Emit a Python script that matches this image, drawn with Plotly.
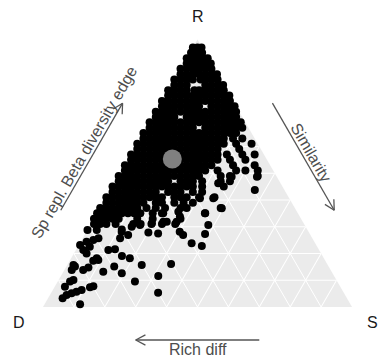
import math
import plotly.graph_objects as go

# Partition of pairwise beta diversity into three components per site pair:
# R = species replacement, S = similarity, D = richness difference (D = 1 - R - S).
# Dense part of the cloud, grouped by replacement level.
row_r = [0.97, 0.95, 0.93, 0.91, 0.89, 0.87, 0.85, 0.83, 0.81, 0.79,
         0.77, 0.75, 0.73, 0.71, 0.69, 0.67, 0.65, 0.63, 0.61, 0.59,
         0.57, 0.55, 0.53, 0.51, 0.49, 0.47, 0.45, 0.43, 0.41, 0.39,
         0.37, 0.35, 0.33, 0.31]
row_s = [
    [0.0, 0.015, 0.028],
    [0.004, 0.022, 0.04],
    [0.0, 0.018, 0.036, 0.055, 0.068],
    [0.01, 0.03, 0.05, 0.07, 0.088],
    [0.0, 0.02, 0.04, 0.06, 0.08, 0.1],
    [0.01, 0.03, 0.05, 0.07, 0.09, 0.11, 0.128],
    [0.0, 0.02, 0.04, 0.06, 0.085, 0.1, 0.12, 0.14],
    [0.01, 0.03, 0.05, 0.11, 0.13, 0.15, 0.168],
    [0.0, 0.02, 0.04, 0.06, 0.085, 0.1, 0.12, 0.14, 0.16, 0.18],
    [0.01, 0.03, 0.05, 0.07, 0.09, 0.11, 0.13, 0.15, 0.17, 0.19, 0.208],
    [0.0, 0.02, 0.04, 0.06, 0.08, 0.1, 0.12, 0.14, 0.16, 0.18, 0.2, 0.22],
    [0.01, 0.03, 0.05, 0.07, 0.09, 0.11, 0.13, 0.17, 0.19, 0.21, 0.23, 0.245],
    [0.0, 0.02, 0.04, 0.06, 0.08, 0.1, 0.12, 0.14, 0.16, 0.18, 0.2, 0.22, 0.24, 0.26],
    [0.01, 0.03, 0.05, 0.07, 0.11, 0.13, 0.15, 0.17, 0.19, 0.21, 0.23, 0.25, 0.27],
    [0.0, 0.02, 0.04, 0.06, 0.08, 0.1, 0.12, 0.14, 0.16, 0.18, 0.2, 0.22, 0.24, 0.26, 0.28, 0.295],
    [0.01, 0.03, 0.05, 0.07, 0.09, 0.11, 0.13, 0.15, 0.19, 0.21, 0.23, 0.25, 0.27, 0.29, 0.31],
    [0.0, 0.02, 0.04, 0.06, 0.08, 0.1, 0.12, 0.14, 0.16, 0.18, 0.2, 0.22, 0.24, 0.26, 0.28, 0.3],
    [0.01, 0.03, 0.05, 0.07, 0.09, 0.11, 0.13, 0.15, 0.17, 0.19, 0.21, 0.23, 0.25, 0.27, 0.3, 0.33],
    [0.0, 0.02, 0.04, 0.06, 0.08, 0.1, 0.12, 0.14, 0.16, 0.18, 0.2, 0.22, 0.24, 0.26, 0.28, 0.32, 0.37],
    [0.01, 0.03, 0.05, 0.07, 0.09, 0.11, 0.13, 0.15, 0.17, 0.19, 0.21, 0.23, 0.25, 0.27, 0.34],
    [0.0, 0.02, 0.04, 0.06, 0.08, 0.1, 0.12, 0.14, 0.16, 0.18, 0.2, 0.22, 0.24, 0.26, 0.28, 0.31, 0.36, 0.4],
    [0.01, 0.03, 0.05, 0.07, 0.09, 0.11, 0.13, 0.15, 0.17, 0.19, 0.21, 0.23, 0.25, 0.27, 0.29, 0.33, 0.38],
    [0.0, 0.02, 0.04, 0.06, 0.08, 0.1, 0.12, 0.14, 0.16, 0.18, 0.2, 0.22, 0.24, 0.26, 0.28, 0.35, 0.42],
    [0.01, 0.03, 0.05, 0.07, 0.09, 0.11, 0.13, 0.15, 0.17, 0.19, 0.21, 0.23, 0.25, 0.27, 0.31, 0.37, 0.4, 0.44],
    [0.0, 0.02, 0.04, 0.06, 0.08, 0.1, 0.12, 0.14, 0.16, 0.18, 0.2, 0.22, 0.24, 0.26, 0.33, 0.36, 0.45],
    [0.01, 0.03, 0.05, 0.07, 0.09, 0.11, 0.13, 0.15, 0.17, 0.21, 0.23, 0.25, 0.28, 0.34, 0.37],
    [0.0, 0.02, 0.04, 0.06, 0.08, 0.1, 0.12, 0.14, 0.16, 0.18, 0.2, 0.22, 0.24, 0.26, 0.29, 0.36],
    [0.01, 0.03, 0.05, 0.07, 0.09, 0.11, 0.13, 0.15, 0.19, 0.21, 0.23, 0.27, 0.3],
    [0.0, 0.02, 0.04, 0.06, 0.08, 0.1, 0.12, 0.14, 0.16, 0.18, 0.22, 0.24, 0.26, 0.3, 0.35],
    [0.01, 0.03, 0.05, 0.07, 0.09, 0.11, 0.13, 0.17, 0.19, 0.23, 0.26, 0.29],
    [0.0, 0.02, 0.04, 0.06, 0.08, 0.1, 0.12, 0.15, 0.18, 0.21, 0.26, 0.28, 0.39],
    [0.0, 0.02, 0.04, 0.06, 0.08, 0.1, 0.12, 0.14, 0.18, 0.21, 0.35],
    [0.0, 0.02, 0.04, 0.06, 0.08, 0.14, 0.19, 0.28],
    [0.01, 0.03, 0.05, 0.08, 0.137, 0.161, 0.196, 0.23, 0.273],
]

# Scattered site pairs towards the D and S corners.
extra_r = [0.01, 0.033, 0.045, 0.051, 0.057, 0.064, 0.074, 0.078, 0.076, 0.095,
           0.101, 0.138, 0.151, 0.157, 0.138, 0.148, 0.176, 0.132, 0.151, 0.126,
           0.095, 0.116, 0.053, 0.157, 0.161, 0.191, 0.182, 0.213, 0.216, 0.173,
           0.182, 0.2, 0.213, 0.225, 0.232, 0.244, 0.25, 0.257, 0.257, 0.281,
           0.278, 0.275, 0.269, 0.3, 0.306, 0.313, 0.319, 0.281, 0.269, 0.238,
           0.228, 0.273, 0.306, 0.35, 0.406, 0.369, 0.406, 0.462, 0.437, 0.487,
           0.487, 0.319, 0.338, 0.356, 0.319, 0.35, 0.288, 0.288, 0.29]
extra_s = [0.115, 0.047, 0.054, 0.067, 0.08, 0.093, 0.115, 0.124, 0.033, 0.04,
           0.048, 0.024, 0.028, 0.02, 0.061, 0.073, 0.091, 0.129, 0.155, 0.192,
           0.25, 0.315, 0.346, 0.241, 0.334, 0.16, 0.19, 0.105, 0.125, 0.076,
           0.083, 0.041, 0.024, 0.039, 0.004, 0.019, 0.038, 0.051, 0.121, 0.114,
           0.202, 0.235, 0.141, 0.137, 0.161, 0.196, 0.23, 0.302, 0.319, 0.362,
           0.4, 0.388, 0.382, 0.349, 0.305, 0.394, 0.348, 0.336, 0.467, 0.449,
           0.367, 0.273, 0.274, 0.26, 0.241, 0.214, 0.0, 0.03, 0.11]

# Mean position of all site pairs.
centroid_r = [0.553]
centroid_s = [0.142]

corner_labels = ["R", "D", "S"]
edge_labels = ["Sp repl. Beta diversity edge", "Similarity", "Rich diff"]

pts_r, pts_s = [], []
for r, ss in zip(row_r, row_s):
    for s in ss:
        pts_r.append(r)
        pts_s.append(s)
pts_r += extra_r
pts_s += extra_s
pts_d = [max(0.0, round(1 - r - s, 4)) for r, s in zip(pts_r, pts_s)]
cen_d = [round(1 - r - s, 4) for r, s in zip(centroid_r, centroid_s)]

W, H = 381, 360
FONT = "Liberation Sans, Arial, sans-serif"

# Ternary placement: width-limited triangle centred in its domain.
dom_x = [43 / W, 352 / W]
yc = 1 - 173.2 / H
dom_y = [yc - 0.40, yc + 0.40]

tri_w = (dom_x[1] - dom_x[0]) * W
tri_h = tri_w * math.sqrt(3) / 2
cx = (dom_x[0] + dom_x[1]) / 2 * W
cy = (1 - yc) * H
P_D = (cx - tri_w / 2, cy + tri_h / 2)
P_S = (cx + tri_w / 2, cy + tri_h / 2)
P_R = (cx, cy - tri_h / 2)


def to_paper(p):
    return p[0] / W, 1 - p[1] / H


axis_style = dict(showticklabels=False, ticks="", showline=False,
                  showgrid=True, gridcolor="white", gridwidth=1,
                  tick0=0, dtick=0.1, min=0, title=dict(text=""))

fig = go.Figure()
fig.add_trace(go.Scatterternary(
    a=pts_r, b=pts_d, c=pts_s, mode="markers",
    marker=dict(color="black", size=8, line=dict(width=0)),
    cliponaxis=False, hoverinfo="skip", showlegend=False))
fig.add_trace(go.Scatterternary(
    a=centroid_r, b=cen_d, c=centroid_s, mode="markers",
    marker=dict(color="#808080", size=19, line=dict(width=0)),
    cliponaxis=False, hoverinfo="skip", showlegend=False))

shapes, annotations = [], []
ARROW_COL = "#555555"
LINE_OFF, TEXT_OFF = 33, 42
HEAD_LEN, HEAD_ANG = 11, math.radians(28)


def seg(p, q):
    x0, y0 = to_paper(p)
    x1, y1 = to_paper(q)
    shapes.append(dict(type="line", xref="paper", yref="paper",
                       x0=x0, y0=y0, x1=x1, y1=y1,
                       line=dict(color=ARROW_COL, width=1.3)))


def edge_arrow(p0, p1, normal, text, angle):
    dx, dy = p1[0] - p0[0], p1[1] - p0[1]
    start = (p0[0] + 0.3 * dx + LINE_OFF * normal[0], p0[1] + 0.3 * dy + LINE_OFF * normal[1])
    end = (p0[0] + 0.7 * dx + LINE_OFF * normal[0], p0[1] + 0.7 * dy + LINE_OFF * normal[1])
    seg(start, end)
    L = math.hypot(dx, dy)
    ux, uy = dx / L, dy / L
    for sgn in (1, -1):
        c, s = math.cos(sgn * HEAD_ANG), math.sin(sgn * HEAD_ANG)
        bx, by = ux * c - uy * s, ux * s + uy * c
        seg(end, (end[0] - HEAD_LEN * bx, end[1] - HEAD_LEN * by))
    mid = (p0[0] + 0.5 * dx + TEXT_OFF * normal[0], p0[1] + 0.5 * dy + TEXT_OFF * normal[1])
    mx, my = to_paper(mid)
    annotations.append(dict(x=mx, y=my, xref="paper", yref="paper", text=text,
                            showarrow=False, textangle=angle,
                            xanchor="center", yanchor="middle",
                            font=dict(family=FONT, size=16, color="#4d4d4d")))


r3 = math.sqrt(3) / 2
edge_arrow(P_D, P_R, (-r3, -0.5), edge_labels[0], -60)
edge_arrow(P_R, P_S, (r3, -0.5), edge_labels[1], 60)
edge_arrow(P_S, P_D, (0, 1), edge_labels[2], 0)

corner_pos = [(P_R[0] + 0.5, P_R[1] - 23), (P_D[0] - 24, P_D[1] + 15.5), (P_S[0] + 20, P_S[1] + 15)]
for lab, p in zip(corner_labels, corner_pos):
    x, y = to_paper(p)
    annotations.append(dict(x=x, y=y, xref="paper", yref="paper", text=lab,
                            showarrow=False, xanchor="center", yanchor="middle",
                            font=dict(family=FONT, size=16, color="#1a1a1a")))

fig.update_layout(
    width=W, height=H,
    margin=dict(l=0, r=0, t=0, b=0),
    paper_bgcolor="white",
    font=dict(family=FONT),
    hovermode=False,
    ternary=dict(domain=dict(x=dom_x, y=dom_y), sum=1, bgcolor="#ebebeb",
                 aaxis=axis_style, baxis=axis_style, caxis=axis_style),
    shapes=shapes,
    annotations=annotations,
)

fig.write_html("out.html", config={"displayModeBar": False})
